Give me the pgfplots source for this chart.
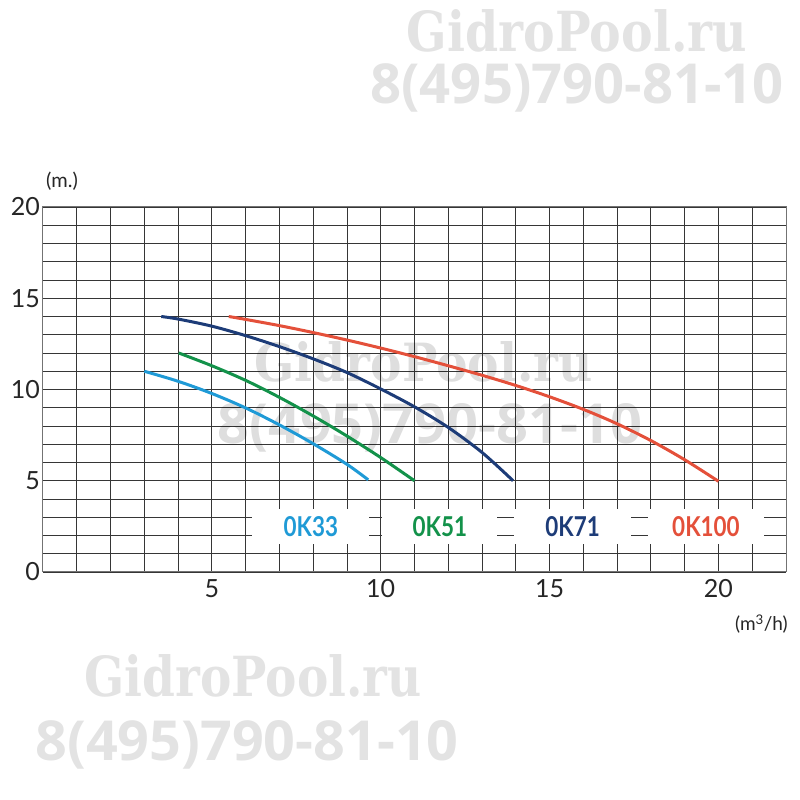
\documentclass[border=0pt]{standalone}
\usepackage{fontspec}
\setmainfont{Lato}
\newfontfamily\wmserif{DejaVu Serif}
\newfontfamily\wmsans{Open Sans}
\usepackage{pgfplots}
\pgfplotsset{compat=1.18}

\definecolor{okA}{HTML}{1F9AD6}
\definecolor{okB}{HTML}{13924A}
\definecolor{okC}{HTML}{1D3C78}
\definecolor{okD}{HTML}{E4503A}
\definecolor{gridc}{HTML}{363636}

\begin{document}
\begin{tikzpicture}[x=1pt,y=1pt]
\useasboundingbox (0,0) rectangle (800,800);

% watermarks outside the grid
\tikzset{wm/.style={text=black!11, inner sep=0pt}}
\node[wm] at (577,769) {\resizebox{340pt}{42pt}{\wmserif\bfseries GidroPool.ru}};
\node[wm] at (577,712) {\resizebox{413pt}{40pt}{\wmsans\bfseries 8(495)790-81-10}};
\node[wm] at (253,124) {\resizebox{337pt}{42pt}{\wmserif\bfseries GidroPool.ru}};
\node[wm] at (247,55) {\resizebox{423pt}{40pt}{\wmsans\bfseries 8(495)790-81-10}};

\begin{scope}[shift={(43,228)}]
\begin{axis}[
    anchor=origin,
    scale only axis, width=743pt, height=365pt,
    xmin=0, xmax=22, ymin=0, ymax=20,
    xtick={5,10,15,20}, ytick={0,5,10,15,20},
    minor xtick={1,...,22}, minor ytick={1,...,19},
    grid=both,
    major grid style={gridc, line width=0.9pt},
    minor grid style={gridc, line width=0.9pt},
    tick style={draw=none},
    axis line style={black!55, line width=1pt},
    tick label style={font=\fontsize{25}{25}\selectfont, text=black!85},
    xticklabel style={yshift=-4pt},
    yticklabel style={inner sep=3pt},
    /pgf/number format/assume math mode=true,
    clip=false,
]

% watermark across the grid, under the curves
\node[text=black, text opacity=0.13, inner sep=0pt] at (axis cs:11.27,11.5) {\resizebox{338pt}{40pt}{\wmserif\bfseries GidroPool.ru}};
\node[text=black, text opacity=0.13, inner sep=0pt] at (axis cs:11.45,7.9) {\resizebox{425pt}{40pt}{\wmsans\bfseries 8(495)790-81-10}};

% white boxes for the labels
\fill[white] (axis cs:6.2,1.55) rectangle (axis cs:9.65,3.45);
\fill[white] (axis cs:10.05,1.55) rectangle (axis cs:13.45,3.45);
\fill[white] (axis cs:13.95,1.55) rectangle (axis cs:17.4,3.45);
\fill[white] (axis cs:17.9,1.55) rectangle (axis cs:21.35,3.45);

% 0K33
\addplot[okA, line width=3pt, smooth] coordinates {
    (3,11.0) (4,10.45) (5,9.78) (6,8.99) (7,8.06) (8,7.03) (9,5.9) (9.63,5.05)
};
% 0K51
\addplot[okB, line width=3pt, smooth] coordinates {
    (4.02,12.0) (5,11.3) (6,10.5) (7,9.57) (8,8.55) (9,7.45) (10,6.27) (11,5.0)
};
% 0K71
\addplot[okC, line width=3pt, smooth] coordinates {
    (3.5,14.0) (4,13.86) (5,13.47) (6,12.95) (7,12.35) (8,11.68) (9,10.93)
    (10,10.03) (11,9.05) (12,7.92) (13,6.55) (13.92,5.0)
};
% 0K100
\addplot[okD, line width=3pt, smooth] coordinates {
    (5.5,14.0) (6,13.84) (7,13.5) (8,13.12) (9,12.71) (10,12.27) (11,11.8)
    (12,11.3) (13,10.78) (14,10.22) (15,9.6) (16,8.91) (17,8.12) (18,7.2)
    (19,6.15) (20,4.97)
};

\node[text=okA] at (axis cs:7.93,2.5) {\resizebox{!}{20pt}{\bfseries\scalebox{0.82}[1]{0K33}}};
\node[text=okB] at (axis cs:11.75,2.5) {\resizebox{!}{20pt}{\bfseries\scalebox{0.82}[1]{0K51}}};
\node[text=okC] at (axis cs:15.68,2.5) {\resizebox{!}{20pt}{\bfseries\scalebox{0.82}[1]{0K71}}};
\node[text=okD] at (axis cs:19.63,2.5) {\resizebox{!}{20pt}{\bfseries\scalebox{0.82}[1]{0K100}}};
\end{axis}
\end{scope}

\node[font=\fontsize{20}{20}\selectfont, text=black!85] at (62,619) {(m.)};
\node[font=\fontsize{19}{19}\selectfont, text=black!85, anchor=east, inner sep=0pt] at (788,176) {(m\textsuperscript{3}/h)};
\end{tikzpicture}
\end{document}
